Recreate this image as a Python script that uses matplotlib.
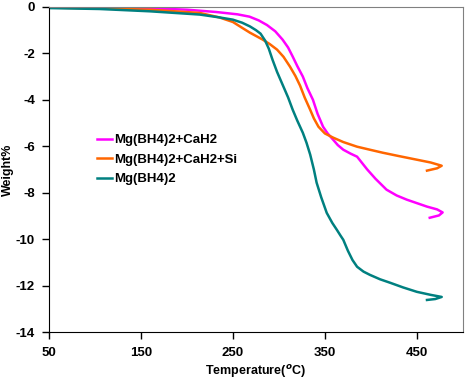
import numpy as np
import matplotlib
matplotlib.use("Agg")
import matplotlib.pyplot as plt

plt.rcParams['font.family'] = ['Liberation Sans', 'DejaVu Sans']
plt.rcParams['font.weight'] = 'bold'
plt.rcParams['axes.unicode_minus'] = False

# Mg(BH4)2+CaH2
t_ca = [50, 100, 160, 200, 232, 255, 268, 278, 287, 296, 304, 310, 315, 320, 326, 331, 337, 342, 348, 353,
        359, 364, 370, 378, 385, 390, 396, 405, 417, 428, 439, 450, 461, 472, 478, 474, 464]
w_ca = [-0.03, -0.04, -0.06, -0.12, -0.22, -0.32, -0.42, -0.58, -0.78, -1.05, -1.41, -1.75, -2.14, -2.55, -3.0, -3.5,
        -4.0, -4.6, -5.16, -5.45, -5.72, -5.95, -6.15, -6.32, -6.45, -6.7, -7.0, -7.4, -7.87, -8.12, -8.3, -8.45,
        -8.6, -8.72, -8.85, -8.98, -9.08]

# Mg(BH4)2+CaH2+Si
t_si = [50, 100, 160, 214, 235, 250, 260, 268.5, 282, 290, 298, 305, 312, 318, 323, 328, 334, 338, 343, 350,
        359, 370, 385, 400, 413, 430, 450, 465, 477, 472, 461]
w_si = [-0.03, -0.06, -0.12, -0.26, -0.45, -0.65, -0.9, -1.11, -1.4, -1.6, -1.84, -2.15, -2.57, -2.98, -3.39,
        -3.9, -4.43, -4.8, -5.16, -5.45, -5.63, -5.82, -6.02, -6.16, -6.28, -6.42, -6.58, -6.7, -6.84, -6.95, -7.05]

# Mg(BH4)2
t_mg = [50, 105, 160, 214, 235, 250, 260, 268.5, 275, 280, 285, 289, 293, 298, 304, 310, 315, 320, 326, 330,
        334, 338, 341, 346, 352, 358, 363, 367, 370, 375, 380, 385, 392, 399, 410, 421, 435, 450, 465, 477,
        470, 461]
w_mg = [-0.05, -0.09, -0.19, -0.33, -0.45, -0.55, -0.68, -0.84, -1.0, -1.15, -1.45, -1.8, -2.27, -2.8, -3.35,
        -3.9, -4.43, -4.9, -5.42, -5.85, -6.36, -7.0, -7.57, -8.2, -8.87, -9.3, -9.6, -9.85, -10.03, -10.5,
        -10.9, -11.19, -11.4, -11.54, -11.73, -11.88, -12.08, -12.27, -12.4, -12.49, -12.58, -12.62]

fig = plt.figure(figsize=(4.68, 3.84), dpi=100)
ax = fig.add_axes([0.1047, 0.1354, 0.8843, 0.8466])

ax.plot(t_ca, w_ca, color="#ff00ff", lw=1.8, label="Mg(BH4)2+CaH2")
ax.plot(t_si, w_si, color="#ff6600", lw=1.8, label="Mg(BH4)2+CaH2+Si")
ax.plot(t_mg, w_mg, color="#008080", lw=1.8, label="Mg(BH4)2")

ax.set_xlim(50, 500)
ax.set_ylim(-14, 0)
ax.set_xticks([50, 150, 250, 350, 450])
ax.set_yticks(np.arange(-14, 1, 2))
ax.tick_params(direction='out', length=5, width=1, labelsize=9.5)
ax.tick_params(axis='x', pad=6)
ax.tick_params(axis='y', pad=5)
for s in ['top', 'right']:
    ax.spines[s].set_color('#808080')
for s in ['left', 'bottom']:
    ax.spines[s].set_color('black')

ax.set_xlabel("Temperature($^{o}$C)", fontsize=9, fontweight='bold', labelpad=3)
ax.set_ylabel("Weight%", fontsize=9, fontweight='bold')
ax.yaxis.set_label_coords(-0.085, 0.5)

ax.legend(loc='upper left', bbox_to_anchor=(0.088, 0.645), frameon=False,
          handlelength=1.1, handletextpad=0.15, labelspacing=0.55,
          prop={'size': 9.5, 'weight': 'bold'})

fig.savefig("out.png", dpi=100)
